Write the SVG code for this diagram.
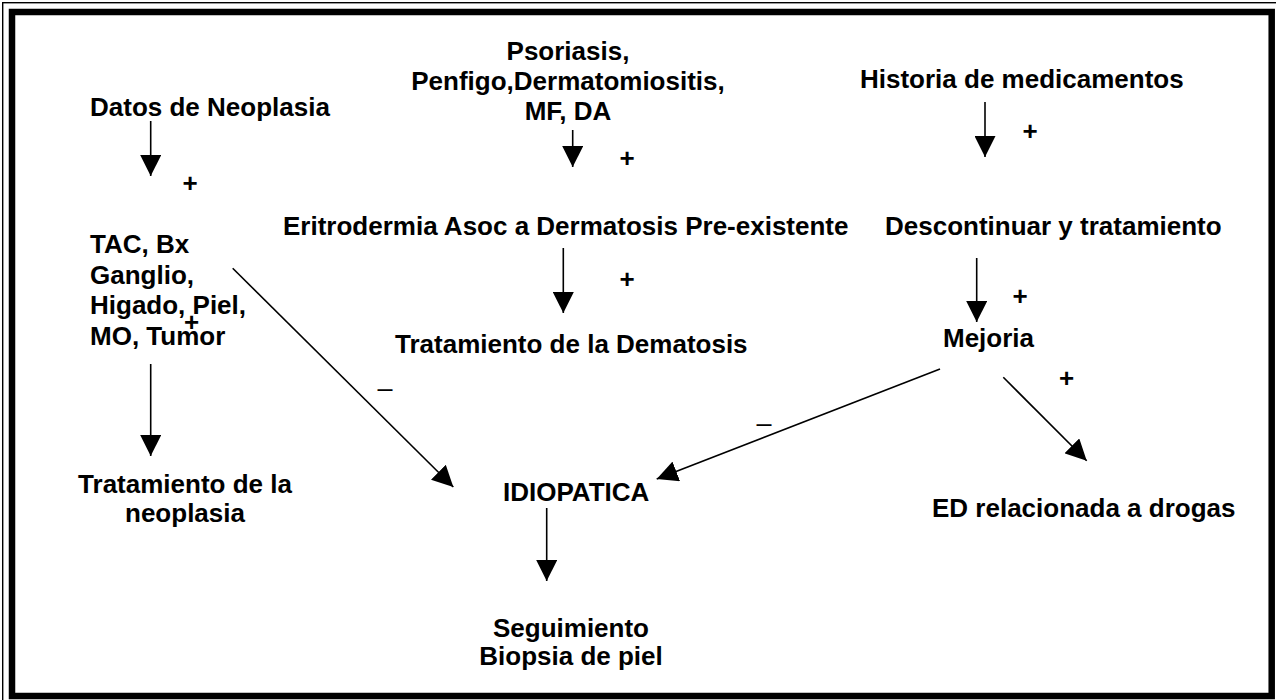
<svg xmlns="http://www.w3.org/2000/svg" width="1276" height="700" viewBox="0 0 1276 700">
<style>
.t{font-family:"Liberation Sans",Arial,sans-serif;font-weight:bold;font-size:26px;fill:#000}
.m{text-anchor:middle}
.d{font-family:"Liberation Sans",Arial,sans-serif;font-weight:normal;font-size:27px;fill:#000}
.c{stroke:#000;stroke-width:1.6;fill:none}
</style>
<defs>
<marker id="ah" markerUnits="userSpaceOnUse" markerWidth="21" markerHeight="21" refX="20" refY="10" orient="auto" viewBox="0 0 20 20">
<path d="M0,0 L20,10 L0,20 z" fill="#000"/>
</marker>
</defs>
<rect width="1276" height="700" fill="#fff"/>
<g id="border">
<rect x="2.7" y="2.7" width="1290" height="710" fill="none" stroke="#000" stroke-width="1.4"/>
<rect x="12" y="12" width="1259.7" height="684" fill="none" stroke="#000" stroke-width="6.5"/>
</g>
<g id="connectors">
<line class="c" x1="150.7" y1="121" x2="150.7" y2="176" marker-end="url(#ah)"/>
<line class="c" x1="572.7" y1="130" x2="572.7" y2="167" marker-end="url(#ah)"/>
<line class="c" x1="985" y1="102" x2="985" y2="157" marker-end="url(#ah)"/>
<line class="c" x1="563.3" y1="248" x2="563.3" y2="313" marker-end="url(#ah)"/>
<line class="c" x1="976.7" y1="258" x2="976.7" y2="322" marker-end="url(#ah)"/>
<line class="c" x1="150.7" y1="364" x2="150.7" y2="456" marker-end="url(#ah)"/>
<line class="c" x1="232.7" y1="268.3" x2="453.3" y2="487" marker-end="url(#ah)"/>
<line class="c" x1="940" y1="369" x2="656.7" y2="479" marker-end="url(#ah)"/>
<line class="c" x1="1003.3" y1="377.3" x2="1086.7" y2="460.7" marker-end="url(#ah)"/>
<line class="c" x1="546.7" y1="508" x2="546.7" y2="581" marker-end="url(#ah)"/>
</g>
<g id="labels">
<text class="t m" x="190" y="192">+</text>
<text class="t m" x="627" y="167">+</text>
<text class="t m" x="1030" y="140">+</text>
<text class="t m" x="627" y="288">+</text>
<text class="t m" x="1020" y="305">+</text>
<text class="t m" x="1066.7" y="387">+</text>
<text class="t m" x="191.7" y="331">+</text>
<text class="d m" x="385" y="397">–</text>
<text class="d m" x="764" y="432">–</text>
</g>
<g id="n-datos"><text class="t" x="90" y="116">Datos de Neoplasia</text></g>
<g id="n-psoriasis"><text class="t m" x="568" y="60">Psoriasis,<tspan x="568" y="89.5">Penfigo,Dermatomiositis,</tspan><tspan x="568" y="119.5">MF, DA</tspan></text></g>
<g id="n-historia"><text class="t" x="860" y="88">Historia de medicamentos</text></g>
<g id="n-eritrodermia"><text class="t" x="283" y="235">Eritrodermia Asoc a Dermatosis Pre-existente</text></g>
<g id="n-descontinuar"><text class="t" x="885" y="235">Descontinuar y tratamiento</text></g>
<g id="n-tac"><text class="t" x="90" y="253">TAC, Bx<tspan x="90" y="283.6">Ganglio,</tspan><tspan x="90" y="314.2">Higado, Piel,</tspan><tspan x="90" y="344.8">MO, Tumor</tspan></text></g>
<g id="n-mejoria"><text class="t" x="943" y="347">Mejoria</text></g>
<g id="n-tratdermatosis"><text class="t" x="395" y="353">Tratamiento de la Dematosis</text></g>
<g id="n-tratneoplasia"><text class="t m" x="185" y="492.7">Tratamiento de la<tspan x="185" y="521.7">neoplasia</tspan></text></g>
<g id="n-idiopatica"><text class="t" x="503" y="501">IDIOPATICA</text></g>
<g id="n-ed"><text class="t" x="932" y="517">ED relacionada a drogas</text></g>
<g id="n-seguimiento"><text class="t m" x="571" y="637">Seguimiento<tspan x="571" y="665">Biopsia de piel</tspan></text></g>
</svg>
